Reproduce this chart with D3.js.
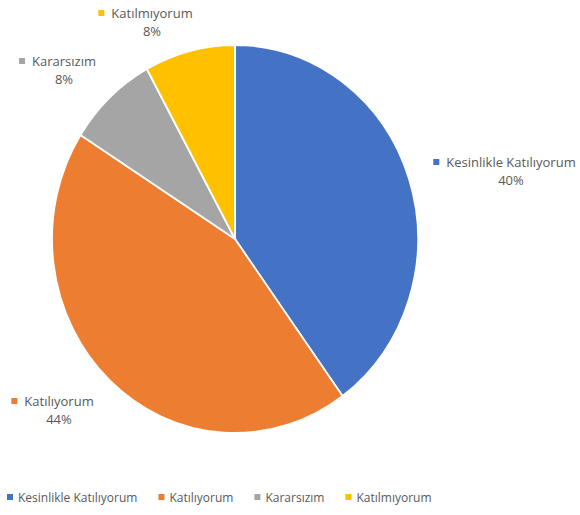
<!DOCTYPE html>
<html><head><meta charset="utf-8">
<script src="https://cdn.jsdelivr.net/npm/d3@7"></script>
<style>body{margin:0;background:#fff}svg{display:block}text{font-family:"Open Sans",sans-serif;fill:#595959}</style>
</head><body>
<svg id="c" width="580" height="515"></svg>
<script>
const categories = ["Kesinlikle Katılıyorum", "Katılıyorum", "Kararsızım", "Katılmıyorum"];
const values = [40, 44, 8, 8];
const percentLabels = ["40%", "44%", "8%", "8%"];
const colors = ["#4472C4", "#ED7D31", "#A5A5A5", "#FFC000"];

const svg = d3.select("#c");
const cx = 235, cy = 239, rx = 183, ry = 194;
const data = categories.map((c, i) => ({cat: c, v: values[i], pct: percentLabels[i], col: colors[i]}));
const pie = d3.pie().value(d => d.v).sort(null);
const arc = d3.arc().innerRadius(0).outerRadius(rx);
const g = svg.append("g").attr("transform", `translate(${cx},${cy}) scale(1,${ry/rx})`);
g.selectAll("path").data(pie(data)).join("path")
  .attr("d", arc).attr("fill", d => d.data.col)
  .attr("stroke", "#fff").attr("stroke-width", 1.8).attr("vector-effect", "non-scaling-stroke");

// data labels (positions per slice)
const labelPos = [
  {x: 511, y: 167},
  {x: 59, y: 406},
  {x: 64, y: 66},
  {x: 152, y: 18}
];
const lab = svg.append("g").selectAll("g").data(data).join("g")
  .attr("transform", (d, i) => `translate(${labelPos[i].x},${labelPos[i].y})`);
lab.append("text").attr("class", "nm").attr("text-anchor", "middle").attr("font-size", 13)
  .text(d => d.cat);
lab.append("text").attr("text-anchor", "middle").attr("font-size", 13).attr("y", 18)
  .text(d => d.pct);
lab.each(function(d) {
  const t = d3.select(this).select("text.nm");
  const w = t.node().getComputedTextLength();
  d3.select(this).append("rect").attr("x", -w/2 - 13).attr("y", -8).attr("width", 6).attr("height", 6)
    .attr("fill", d.col);
});

// legend
const leg = svg.append("g").attr("transform", "translate(0,502)");
let x = 7;
data.forEach(d => {
  const it = leg.append("g").attr("transform", `translate(${x},0)`);
  it.append("rect").attr("x", 0).attr("y", -8).attr("width", 6).attr("height", 6).attr("fill", d.col);
  const t = it.append("text").attr("x", 11).attr("font-size", 12).text(d.cat);
  x += 11 + t.node().getComputedTextLength() + 21;
});
</script>
</body></html>
